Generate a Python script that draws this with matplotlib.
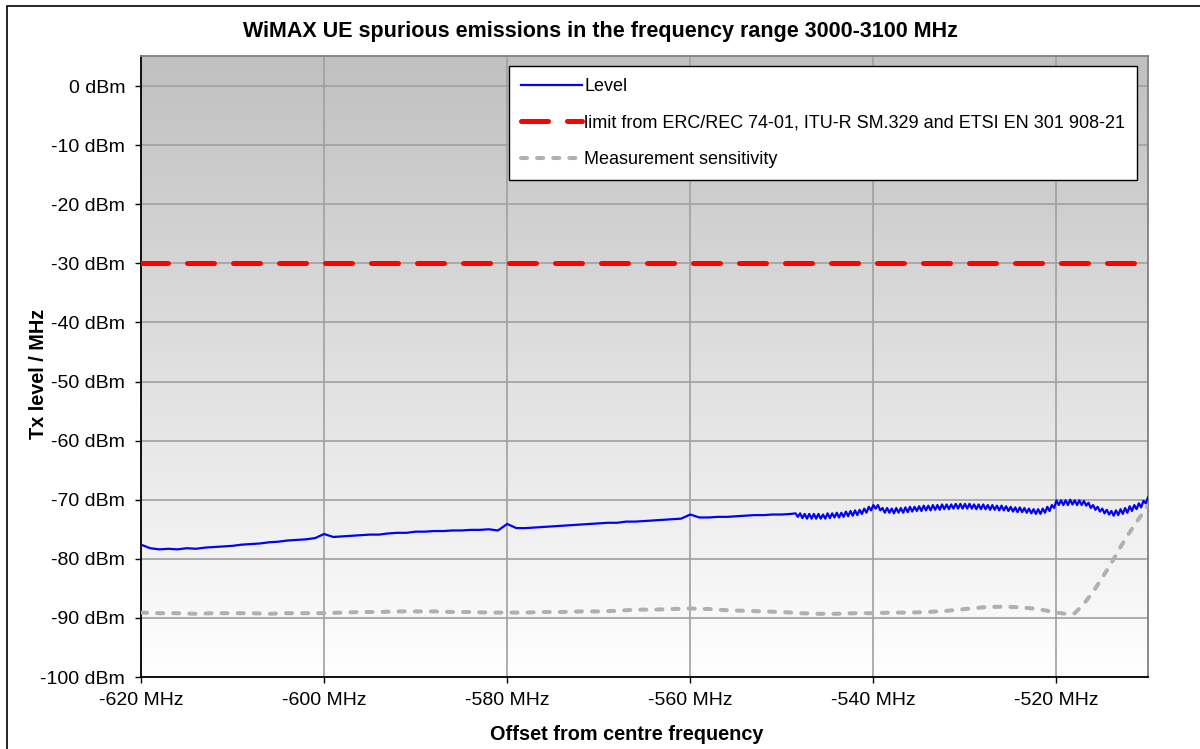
import numpy as np
import matplotlib
matplotlib.use("Agg")
import matplotlib.pyplot as plt
from matplotlib.patches import Rectangle

plt.rcParams['font.family'] = ['Liberation Sans', 'DejaVu Sans']

# measured level, smooth part (1 MHz steps, -620 .. -549)
level_x_smooth = list(range(-620, -548))
level_y_smooth = [
    -77.6, -78.2, -78.4, -78.3, -78.4, -78.2, -78.3, -78.1, -78.0, -77.9,
    -77.8, -77.6, -77.5, -77.4, -77.2, -77.1, -76.9, -76.8, -76.7, -76.5,
    -75.8, -76.3, -76.2, -76.1, -76.0, -75.9, -75.9, -75.7, -75.6, -75.6,
    -75.4, -75.4, -75.3, -75.3, -75.2, -75.2, -75.1, -75.1, -75.0, -75.2,
    -74.1, -74.8, -74.8, -74.7, -74.6, -74.5, -74.4, -74.3, -74.2, -74.1,
    -74.0, -73.9, -73.9, -73.7, -73.7, -73.6, -73.5, -73.4, -73.3, -73.2,
    -72.5, -73.0, -73.0, -72.9, -72.9, -72.8, -72.7, -72.6, -72.6, -72.5,
    -72.5, -72.4,
]

# measured level, rippled part (0.25 MHz steps, -548.5 .. -510)
level_x_ripple = [-548.5 + 0.25 * i for i in range(155)]
level_y_ripple = [
    -72.3, -72.9,
    -72.3, -73.1, -72.4, -73.2,   # -548
    -72.4, -73.2, -72.4, -73.2,   # -547
    -72.4, -73.2, -72.5, -73.2,   # -546
    -72.3, -73.1, -72.3, -73.0,   # -545
    -72.2, -73.0, -72.2, -72.9,   # -544
    -72.0, -72.8, -71.9, -72.7,   # -543
    -71.8, -72.6, -71.7, -72.4,   # -542
    -71.5, -72.2, -71.2, -71.8,   # -541
    -70.9, -71.5, -70.9, -71.8,   # -540
    -71.4, -72.2, -71.4, -72.2,   # -539
    -71.5, -72.3, -71.4, -72.2,   # -538
    -71.4, -72.2, -71.3, -72.1,   # -537
    -71.2, -72.0, -71.2, -71.9,   # -536
    -71.1, -71.9, -71.0, -71.8,   # -535
    -71.0, -71.8, -70.9, -71.7,   # -534
    -70.9, -71.7, -70.8, -71.6,   # -533
    -70.8, -71.6, -70.8, -71.5,   # -532
    -70.7, -71.5, -70.7, -71.5,   # -531
    -70.7, -71.5, -70.7, -71.5,   # -530
    -70.8, -71.6, -70.8, -71.6,   # -529
    -70.8, -71.6, -70.9, -71.7,   # -528
    -70.9, -71.7, -71.0, -71.8,   # -527
    -71.0, -71.8, -71.1, -71.9,   # -526
    -71.2, -72.0, -71.3, -72.1,   # -525
    -71.3, -72.1, -71.4, -72.2,   # -524
    -71.5, -72.3, -71.6, -72.4,   # -523
    -71.6, -72.4, -71.5, -72.2,   # -522
    -71.2, -71.9, -70.9, -71.4,   # -521
    -70.1, -70.9, -70.1, -70.9,   # -520
    -70.1, -70.9, -70.0, -70.8,   # -519
    -70.1, -70.9, -70.1, -70.9,   # -518
    -70.2, -71.0, -70.5, -71.4,   # -517
    -70.9, -71.7, -71.2, -72.0,   # -516
    -71.5, -72.3, -71.7, -72.5,   # -515
    -71.9, -72.7, -71.8, -72.6,   # -514
    -71.6, -72.4, -71.4, -72.2,   # -513
    -71.1, -71.9, -70.9, -71.6,   # -512
    -70.6, -71.3, -70.2, -70.6,   # -511
    -69.6,
]

# measurement sensitivity
sens_x = [-620, -618, -616, -614, -612, -610, -608, -606, -604, -602,
          -600, -598, -596, -594, -592, -590, -588, -586, -584, -582,
          -580, -578, -576, -574, -572, -570, -568, -566, -564, -562,
          -560, -558, -556, -554, -552, -550, -548, -546, -544, -542,
          -540, -538, -536, -534, -532, -530, -528, -526, -524, -522,
          -520, -519, -518, -517, -516, -515, -514, -513, -512, -511, -510]
sens_y = [-89.1, -89.2, -89.2, -89.3, -89.2, -89.2, -89.2, -89.3, -89.2, -89.2,
          -89.2, -89.1, -89.0, -89.0, -88.9, -88.9, -88.9, -89.0, -89.0, -89.1,
          -89.1, -89.1, -89.0, -89.0, -88.9, -88.9, -88.8, -88.6, -88.6, -88.5,
          -88.4, -88.5, -88.7, -88.8, -88.9, -89.0, -89.2, -89.3, -89.3, -89.2,
          -89.2, -89.1, -89.1, -89.0, -88.8, -88.5, -88.2, -88.1, -88.2, -88.5,
          -89.1, -89.3, -89.2, -87.6, -85.6, -83.2, -80.7, -78.0, -75.5, -73.2, -71.0]

limit_x = [-620, -510]
limit_y = [-30, -30]

x_ticks = [-620, -600, -580, -560, -540, -520]
y_ticks = [0, -10, -20, -30, -40, -50, -60, -70, -80, -90, -100]

level_x = level_x_smooth + level_x_ripple
level_y = level_y_smooth + level_y_ripple

fig = plt.figure(figsize=(12, 7.49), dpi=100)
fig.patches.append(Rectangle((7 / 1200, -0.1), 1.2, 1.1 - 6 / 749, transform=fig.transFigure,
                             fill=False, edgecolor='black', linewidth=1.2))

ax = fig.add_axes([141 / 1200, 1 - 677 / 749, (1148 - 141) / 1200, (677 - 56) / 749])

# gray-to-white background
grad = np.linspace(0, 1, 256).reshape(-1, 1)
bg_cmap = matplotlib.colors.LinearSegmentedColormap.from_list('bg', ['#c0c0c0', '#ffffff'])
ax.imshow(grad, extent=[0, 1, 0, 1], transform=ax.transAxes, aspect='auto',
          cmap=bg_cmap, origin='upper', zorder=0)

ax.set_xlim(-620, -510)
ax.set_ylim(-100, 5.1)
ax.set_xticks(x_ticks)
ax.set_yticks(y_ticks)
ax.set_xticklabels([f"{v} MHz" for v in x_ticks])
ax.set_yticklabels([f"{v} dBm" for v in y_ticks])
ax.grid(True, color='#a0a0a0', linewidth=1.2, zorder=1)
ax.tick_params(axis='both', direction='out', length=4.5, width=1, labelsize=14, color='black')
ax.tick_params(axis='y', pad=7)
ax.tick_params(axis='x', pad=6)
for s in ['left', 'bottom']:
    ax.spines[s].set_color('black')
    ax.spines[s].set_linewidth(1.3)
for s in ['top', 'right']:
    ax.spines[s].set_color('#808080')
    ax.spines[s].set_linewidth(1.3)

ax.plot(level_x, level_y, color='#0000ff', linewidth=1.6, label='Level', zorder=4)
ax.plot(limit_x, limit_y, color='#ff0000', linewidth=3.6, dashes=(5.4, 3.8),
        dash_capstyle='round',
        label='limit from ERC/REC 74-01, ITU-R SM.329 and ETSI EN 301 908-21', zorder=3)
ax.plot(sens_x, sens_y, color='#b0b0b0', linewidth=2.9, dashes=(1.5, 2.5),
        dash_capstyle='round', label='Measurement sensitivity', zorder=3)

leg = ax.legend(loc='upper left', bbox_to_anchor=(509 / 1200, 1 - 66 / 749),
                bbox_transform=fig.transFigure, borderaxespad=0, fontsize=13,
                handlelength=3.4, handletextpad=0.1, labelspacing=1.08,
                borderpad=0.67, fancybox=False, framealpha=1, edgecolor='black')
leg.get_frame().set_linewidth(1.0)
leg.set_zorder(5)

fig.text(600 / 1200, 1 - 31 / 749, 'WiMAX UE spurious emissions in the frequency range 3000-3100 MHz',
         ha='center', va='center', fontsize=15.5, fontweight='bold')
fig.text(38 / 1200, 1 - 374 / 749, 'Tx level / MHz', rotation=90, ha='center', va='center',
         fontsize=14.3, fontweight='bold')
fig.text(627 / 1200, 1 - 735 / 749, 'Offset from centre frequency', ha='center', va='center',
         fontsize=14.3, fontweight='bold')

fig.savefig('out.png', dpi=100)
